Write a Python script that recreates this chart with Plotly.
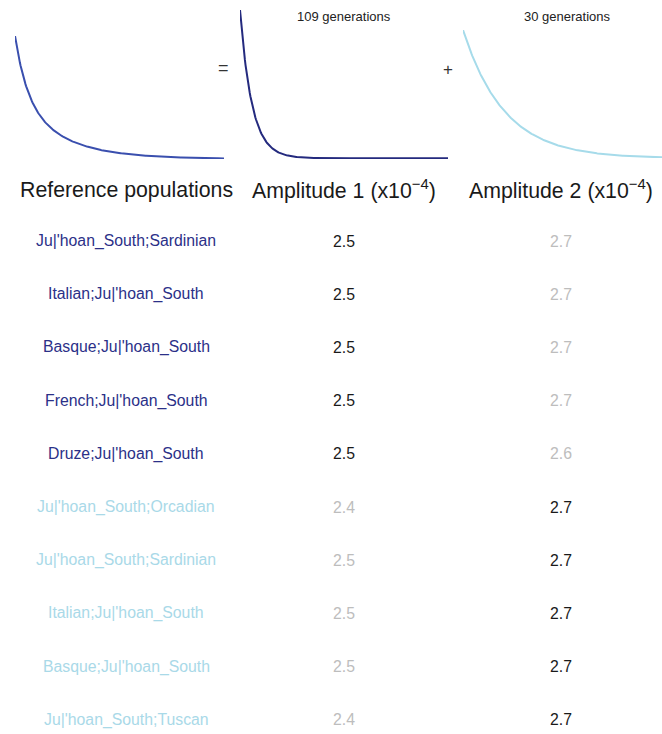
import numpy as np
import plotly.graph_objects as go

# ---- data ----
ref_pops = ["Ju|'hoan_South;Sardinian", "Italian;Ju|'hoan_South", "Basque;Ju|'hoan_South",
            "French;Ju|'hoan_South", "Druze;Ju|'hoan_South", "Ju|'hoan_South;Orcadian",
            "Ju|'hoan_South;Sardinian", "Italian;Ju|'hoan_South", "Basque;Ju|'hoan_South",
            "Ju|'hoan_South;Tuscan"]
amp1 = [2.5, 2.5, 2.5, 2.5, 2.5, 2.4, 2.5, 2.5, 2.5, 2.4]
amp2 = [2.7, 2.7, 2.7, 2.7, 2.6, 2.7, 2.7, 2.7, 2.7, 2.7]
group = [1, 1, 1, 1, 1, 2, 2, 2, 2, 2]   # which component the row belongs to
gen1 = 109
gen2 = 30
A1 = 2.5
A2 = 2.7
headers = ["Reference populations", "Amplitude 1 (x10<sup>\u22124</sup>)", "Amplitude 2 (x10<sup>\u22124</sup>)"]
gen_labels = ["109 generations", "30 generations"]

W, H = 662, 734
NAVY_TXT = "#2b3088"
LIGHT_TXT = "#a9d9e8"
C_A = "#3a4fae"
C_B = "#242a7e"
C_C = "#a6dbea"

d = np.linspace(0, 0.16, 300)  # genetic distance (Morgans)
comp1 = A1 * np.exp(-gen1 * d)
comp2 = A2 * np.exp(-gen2 * d)
total = comp1 + comp2

def px(x):
    return x / W

def py(y):
    return 1 - y / H

fig = go.Figure()
curves = [
    (total, C_A, (15, 224), (36, 159)),
    (comp1, C_B, (240, 448), (10, 159)),
    (comp2, C_C, (463, 662), (30, 158)),
]
layout_axes = {}
for i, (yv, col, (x0, x1), (y0, y1)) in enumerate(curves, start=1):
    xa = "x" if i == 1 else f"x{i}"
    ya = "y" if i == 1 else f"y{i}"
    fig.add_trace(go.Scatter(x=d, y=yv, mode="lines", line=dict(color=col, width=2),
                             xaxis=xa, yaxis=ya, showlegend=False, hoverinfo="skip"))
    span = float(yv.max() - yv.min())
    layout_axes["xaxis" if i == 1 else f"xaxis{i}"] = dict(
        domain=[px(x0), px(x1)], range=[0, 0.16], visible=False, anchor=ya)
    layout_axes["yaxis" if i == 1 else f"yaxis{i}"] = dict(
        domain=[py(y1), py(y0)], range=[float(yv.min()) - 0.005 * span, float(yv.max())],
        visible=False, anchor=xa)

fig.update_layout(**layout_axes)

ann = []
FONT = "Liberation Sans, Arial, Helvetica, sans-serif"

def add_text(x, y, text, size, color):
    ann.append(dict(x=px(x), y=py(y), xref="paper", yref="paper", text=text,
                    showarrow=False, xanchor="center", yanchor="middle",
                    font=dict(family=FONT, size=size, color=color)))

add_text(223.5, 68.5, "=", 18, "#333333")
add_text(448, 70, "+", 17, "#333333")
add_text(344, 17, gen_labels[0], 13, "#222222")
add_text(567, 17, gen_labels[1], 13, "#222222")

col_x = [126, 344, 561]
for j, h in enumerate(headers):
    add_text(col_x[j], 190, h, 21.3, "#1a1a1a")

row_y0, row_dy = 241, 53.2
for i, (lab, a1, a2, g) in enumerate(zip(ref_pops, amp1, amp2, group)):
    y = row_y0 + i * row_dy
    add_text(col_x[0], y, lab, 15.8, NAVY_TXT if g == 1 else LIGHT_TXT)
    add_text(col_x[1], y, f"{a1:.1f}", 15.8, "#1a1a1a" if g == 1 else "#bdbdbd")
    add_text(col_x[2], y, f"{a2:.1f}", 15.8, "#1a1a1a" if g == 2 else "#bdbdbd")

fig.update_layout(width=W, height=H, margin=dict(l=0, r=0, t=0, b=0),
                  paper_bgcolor="white", plot_bgcolor="white", annotations=ann)

fig.write_html("out.html", config={"displayModeBar": False},
               post_script="document.body.style.margin='0';document.body.style.padding='0';")
